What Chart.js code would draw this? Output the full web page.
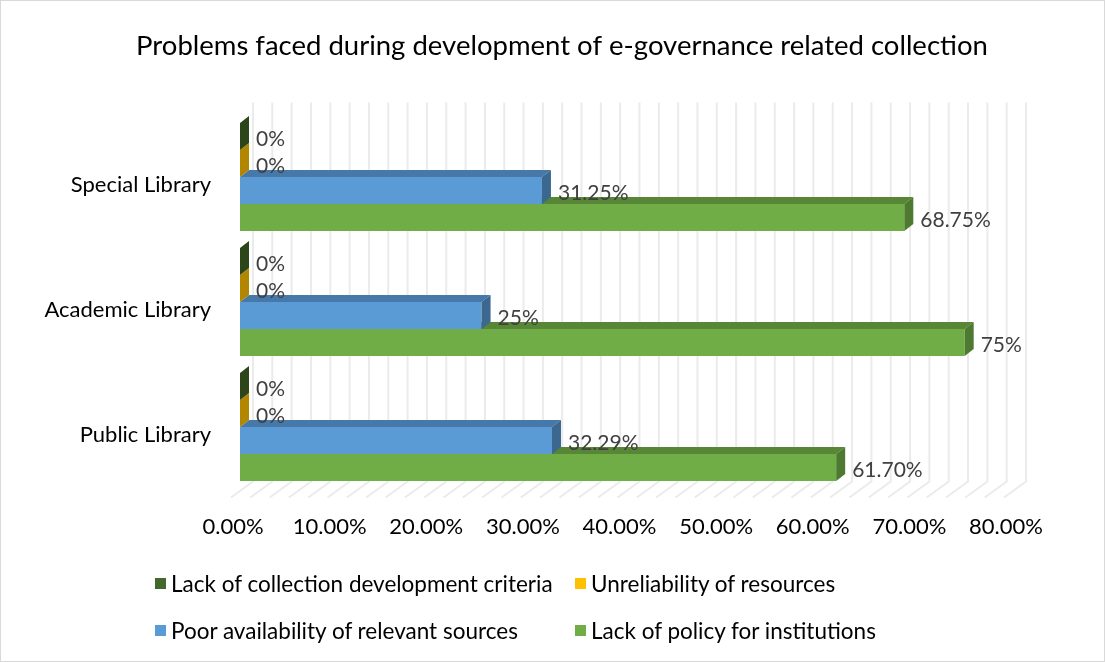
<!DOCTYPE html>
<html>
<head>
<meta charset="utf-8">
<title>Problems faced during development of e-governance related collection</title>
<script src="https://cdn.jsdelivr.net/npm/chart.js@4.4.0/dist/chart.umd.min.js"></script>
<style>
    body { margin: 0; background: #fff; }
    #wrap { position: relative; width: 1105px; height: 662px; font-family: Lato, sans-serif; }
    #chart { position: absolute; left: 0; top: 0; }
    #frame { position: absolute; left: 0; top: 0; width: 1105px; height: 662px; box-sizing: border-box; border: 1px solid #d9d9d9; pointer-events: none; }
    #legend { position: absolute; left: 155px; top: 570px; display: grid; grid-template-columns: 420px auto; row-gap: 21px; }
    .item { display: flex; align-items: center; height: 26px; font-size: 22.5px; color: #000; white-space: nowrap; }
    .box { width: 11px; height: 11px; margin-right: 5px; }
</style>
</head>
<body>
<div id="wrap">
    <canvas id="chart" width="1105" height="662"></canvas>
    <div id="legend"></div>
    <div id="frame"></div>
</div>
<script>
const chartTitle = 'Problems faced during development of e-governance related collection';
const categories = ['Special Library', 'Academic Library', 'Public Library'];
const seriesNames = [
    'Lack of collection development criteria',
    'Unreliability of resources',
    'Poor availability of relevant sources',
    'Lack of policy for institutions'
];
// values in percent, one per category
const criteriaValues = [0, 0, 0];
const unreliabilityValues = [0, 0, 0];
const availabilityValues = [31.25, 25, 32.29];
const policyValues = [68.75, 75, 61.70];
const xTicks = [0, 10, 20, 30, 40, 50, 60, 70, 80];

const frontColors = ['#43682b', '#ffc000', '#5b9bd5', '#70ad47'];
const topColors = ['#36551f', '#cc9a00', '#4678a9', '#578637'];
const sideColors = ['#2c461a', '#b38600', '#3c6890', '#4d7a30'];

const depthX = 9, depthY = -7;

function fmtLabel(v) {
    return (Number.isInteger(v) ? v : v.toFixed(2)) + '%';
}

// legend as a two column grid, like the original
const legendEl = document.getElementById('legend');
seriesNames.forEach((name, i) => {
    const item = document.createElement('div');
    item.className = 'item';
    item.innerHTML = '<span class="box" style="background:' + frontColors[i] + '"></span>' + name;
    legendEl.appendChild(item);
});

function poly(ctx, pts, color) {
    ctx.beginPath();
    ctx.moveTo(pts[0][0], pts[0][1]);
    for (let k = 1; k < pts.length; k++) ctx.lineTo(pts[k][0], pts[k][1]);
    ctx.closePath();
    ctx.fillStyle = color;
    ctx.fill();
}

// title centred on the whole picture, not on the plot
const titlePlugin = {
    id: 'titleText',
    beforeDraw(chart) {
        const ctx = chart.ctx;
        ctx.save();
        ctx.font = '27.5px Lato';
        ctx.fillStyle = '#000';
        ctx.textAlign = 'center';
        ctx.textBaseline = 'middle';
        ctx.fillText(chartTitle, 562, 46);
        ctx.restore();
    }
};

const bar3d = {
    id: 'bar3d',
    beforeDatasetsDraw(chart) {
        const ctx = chart.ctx;
        const xs = chart.scales.x;
        const area = chart.chartArea;
        const wallTop = area.top - 12, wallBottom = area.bottom - 8, floorFront = area.bottom + 8;
        ctx.save();
        ctx.strokeStyle = '#ebebeb';
        ctx.lineWidth = 2;
        for (let v = 0; v <= 80; v += 2) {
            const x = xs.getPixelForValue(v);
            ctx.beginPath();
            ctx.moveTo(x + 13, wallTop);
            ctx.lineTo(x + 13, wallBottom);
            ctx.lineTo(x - 9, floorFront);
            ctx.stroke();
        }
        ctx.restore();
    },
    afterDatasetDraw(chart, args) {
        const ctx = chart.ctx;
        const i = args.index;
        ctx.save();
        args.meta.data.forEach(bar => {
            const p = bar.getProps(['x', 'y', 'base', 'height'], true);
            const top = p.y - p.height / 2, bottom = p.y + p.height / 2;
            const x0 = Math.min(p.base, p.x), x1 = Math.max(p.base, p.x);
            poly(ctx, [[x0, top], [x1, top], [x1 + depthX, top + depthY], [x0 + depthX, top + depthY]], topColors[i]);
            poly(ctx, [[x1, top], [x1 + depthX, top + depthY], [x1 + depthX, bottom + depthY], [x1, bottom]], sideColors[i]);
        });
        ctx.restore();
    },
    afterDatasetsDraw(chart) {
        const ctx = chart.ctx;
        ctx.save();
        ctx.font = '21px Lato';
        ctx.fillStyle = '#404040';
        ctx.textAlign = 'left';
        ctx.textBaseline = 'middle';
        chart.data.datasets.forEach((ds, i) => {
            chart.getDatasetMeta(i).data.forEach((bar, j) => {
                ctx.fillText(fmtLabel(ds.data[j]), bar.x + 16, bar.y + 3);
            });
        });
        ctx.restore();
    }
};

const seriesData = [criteriaValues, unreliabilityValues, availabilityValues, policyValues];

new Chart(document.getElementById('chart'), {
    type: 'bar',
    data: {
        labels: categories,
        datasets: seriesNames.map((name, i) => ({
            label: name,
            data: seriesData[i],
            backgroundColor: frontColors[i],
            borderWidth: 0,
            categoryPercentage: 0.864,
            barPercentage: 1.0
        }))
    },
    options: {
        indexAxis: 'y',
        responsive: false,
        animation: false,
        layout: { padding: { top: 114.5, right: 92, bottom: 112.5, left: 0 } },
        plugins: {
            legend: { display: false },
            tooltip: { enabled: false },
            title: { display: false }
        },
        scales: {
            x: {
                min: 0,
                max: 80,
                grid: { display: false },
                border: { display: false },
                afterBuildTicks(scale) {
                    scale.ticks = xTicks.map(v => ({ value: v }));
                },
                afterFit(scale) {
                    scale.height = 60;
                    scale.paddingLeft = 0;
                    scale.paddingRight = 0;
                },
                ticks: {
                    color: '#000',
                    padding: 16,
                    labelOffset: -7,
                    maxRotation: 0,
                    font: { family: 'Lato', size: 22 },
                    callback: v => v.toFixed(2) + '%'
                }
            },
            y: {
                grid: { display: false },
                border: { display: false },
                afterFit(scale) {
                    scale.width = 240;
                    scale.paddingTop = 0;
                    scale.paddingBottom = 0;
                },
                ticks: {
                    color: '#000',
                    padding: 21,
                    labelOffset: 8,
                    font: { family: 'Lato', size: 22 }
                }
            }
        }
    },
    plugins: [titlePlugin, bar3d]
});
</script>
</body>
</html>
